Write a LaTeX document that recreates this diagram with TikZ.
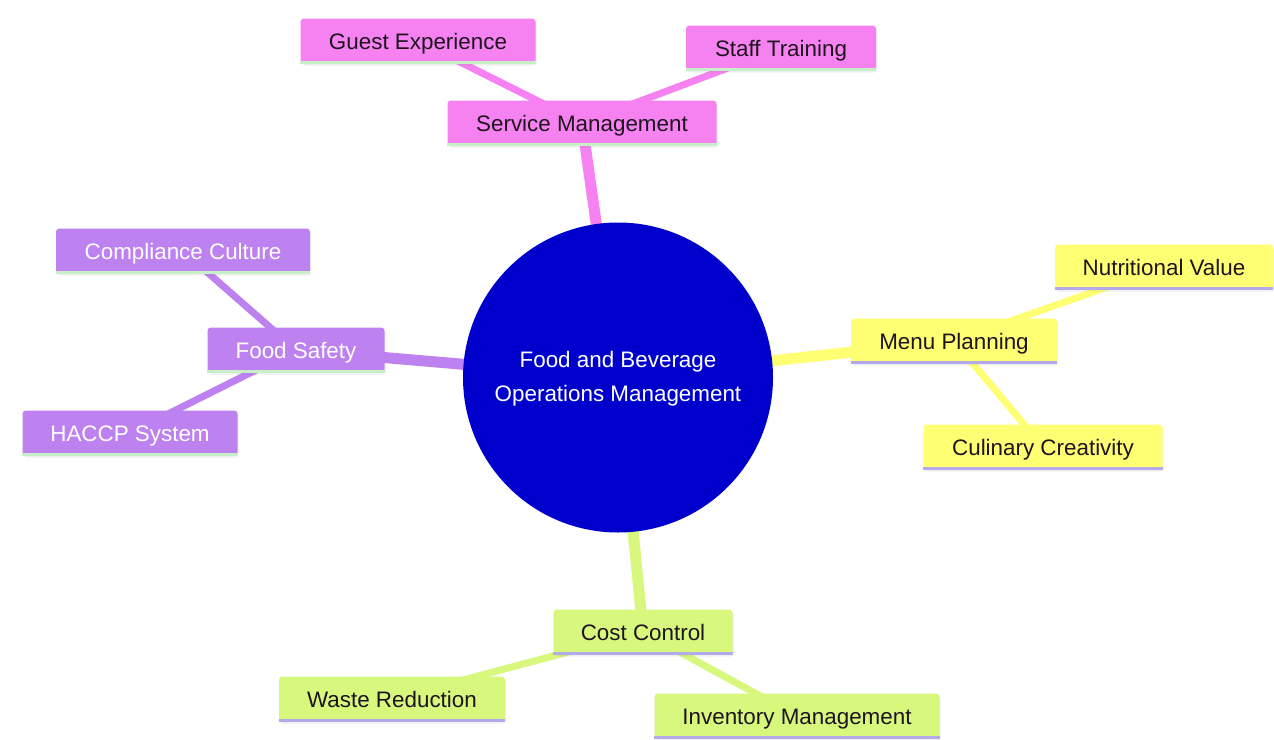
\documentclass[tikz,border=0pt]{standalone}
\usepackage{fontspec}
\setmainfont{Liberation Sans}
\usetikzlibrary{shadows}
\definecolor{pinkc}{RGB}{245,130,240}
\definecolor{purpc}{RGB}{190,130,240}
\definecolor{yellc}{RGB}{255,255,115}
\definecolor{greenc}{RGB}{215,248,125}
\definecolor{bluec}{RGB}{0,0,205}
\definecolor{ulgreen}{RGB}{200,240,200}
\definecolor{ullav}{RGB}{180,170,235}
\definecolor{txtdark}{RGB}{30,20,30}
\tikzset{
  box/.style={rectangle, rounded corners=2.5pt, minimum height=33.75pt, inner sep=0pt,
    text height=12pt, text depth=0pt,
    font=\fontsize{16.8pt}{20pt}\selectfont,
    drop shadow={opacity=0.12, shadow xshift=0.8pt, shadow yshift=-1.5pt}},
  pbox/.style={box, fill=pinkc, text=txtdark},
  ubox/.style={box, fill=purpc, text=white},
  ybox/.style={box, fill=yellc, text=txtdark},
  gbox/.style={box, fill=greenc, text=txtdark},
  thickedge/.style={line width=8.25pt},
  thinedge/.style={line width=5.25pt},
  ul/.style={line width=2.2pt}
}
\begin{document}
\begin{tikzpicture}[x=0.75pt,y=-0.75pt]
\useasboundingbox[fill=white] (0,0) rectangle (1274,739);

% node positions
\coordinate (pc) at (618,377.5);
\coordinate (psm) at (582,123);
\coordinate (pge) at (418,41);
\coordinate (pst) at (781,48);
\coordinate (pfs) at (296,350);
\coordinate (pcc) at (183,251);
\coordinate (pha) at (130,433);
\coordinate (pmp) at (954,341);
\coordinate (pnv) at (1164,267);
\coordinate (pcu) at (1043,447);
\coordinate (pco) at (643,632);
\coordinate (pwr) at (392,699);
\coordinate (pim) at (797,716);

% edges (behind)
\draw[thickedge, pinkc] (pc) -- (psm);
\draw[thinedge, pinkc] (psm) -- (pge);
\draw[thinedge, pinkc] (psm) -- (pst);
\draw[thickedge, purpc] (pc) -- (pfs);
\draw[thinedge, purpc] (pfs) -- (pcc);
\draw[thinedge, purpc] (pfs) -- (pha);
\draw[thickedge, yellc] (pc) -- (pmp);
\draw[thinedge, yellc] (pmp) -- (pnv);
\draw[thinedge, yellc] (pmp) -- (pcu);
\draw[thickedge, greenc] (pc) -- (pco);
\draw[thinedge, greenc] (pco) -- (pwr);
\draw[thinedge, greenc] (pco) -- (pim);

% center
\node[circle, fill=bluec, minimum size=232.5pt, inner sep=0pt, text=white,
  align=center, font=\fontsize{16.8pt}{25.5pt}\selectfont] (c) at (pc)
  {\rule{0pt}{14pt}Food and Beverage\\Operations Management};

% boxes
\node[pbox, minimum width=201.75pt] (sm) at (psm) {Service Management};
\node[pbox, minimum width=176.25pt] (ge) at (pge) {Guest Experience};
\node[pbox, minimum width=142.5pt] (st) at (pst) {Staff Training};
\node[ubox, minimum width=132.75pt] (fs) at (pfs) {Food Safety};
\node[ubox, minimum width=190.5pt] (cc) at (pcc) {Compliance Culture};
\node[ubox, minimum width=161.25pt] (ha) at (pha) {HACCP System};
\node[ybox, minimum width=154.5pt] (mp) at (pmp) {Menu Planning};
\node[ybox, minimum width=163.5pt] (nv) at (pnv) {Nutritional Value};
\node[ybox, minimum width=179.25pt] (cu) at (pcu) {Culinary Creativity};
\node[gbox, minimum width=134.25pt] (co) at (pco) {Cost Control};
\node[gbox, minimum width=169.5pt] (wr) at (pwr) {Waste Reduction};
\node[gbox, minimum width=213.75pt] (im) at (pim) {Inventory Management};

% bottom lines
\foreach \n in {sm,ge,st,fs,cc,ha}
  \draw[ul, ulgreen] ([yshift=0.8pt]\n.south west) -- ([yshift=0.8pt]\n.south east);
\foreach \n in {mp,nv,cu,co,wr,im}
  \draw[ul, ullav] ([yshift=0.8pt]\n.south west) -- ([yshift=0.8pt]\n.south east);
\end{tikzpicture}
\end{document}
